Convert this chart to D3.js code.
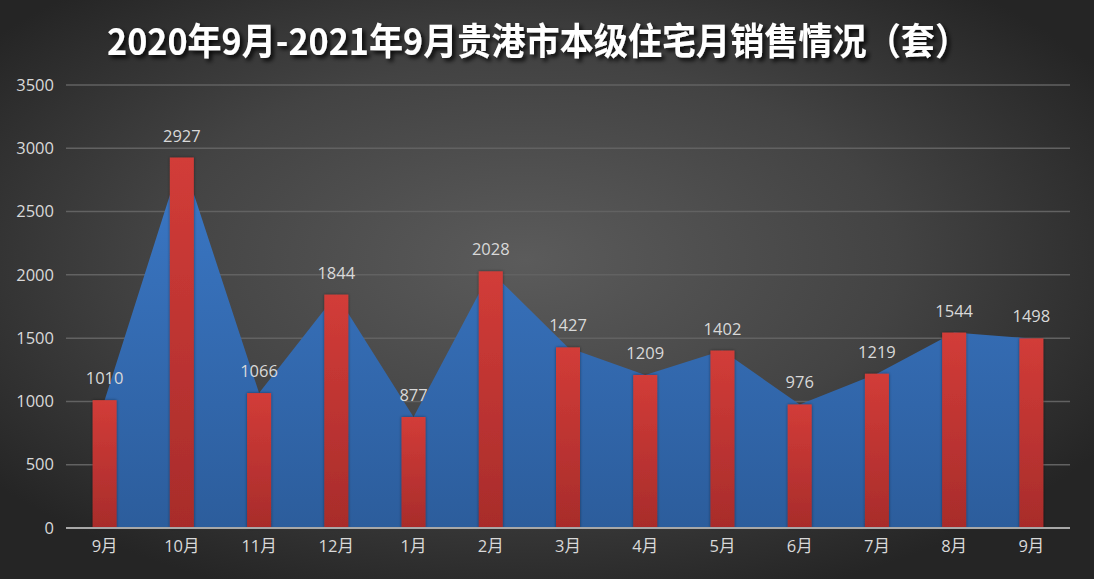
<!DOCTYPE html>
<html><head><meta charset="utf-8">
<script src="https://cdn.jsdelivr.net/npm/d3@7"></script>
<style>html,body{margin:0;padding:0;background:#2a2a2a;overflow:hidden}</style>
</head><body>
<svg id="c" width="1094" height="579"></svg>
<script>
const title = "2020年9月-2021年9月贵港市本级住宅月销售情况（套）";
const categories = ["9月","10月","11月","12月","1月","2月","3月","4月","5月","6月","7月","8月","9月"];
const sales = [1010,2927,1066,1844,877,2028,1427,1209,1402,976,1219,1544,1498];
const yTicks = [0,500,1000,1500,2000,2500,3000,3500];

const W = 1094, H = 579;
const svg = d3.select("#c");
const defs = svg.append("defs");

const bg = defs.append("radialGradient").attr("id","bg").attr("cx","48%").attr("cy","45%").attr("r","62%");
bg.append("stop").attr("offset","0%").attr("stop-color","#5b5b5b");
bg.append("stop").attr("offset","55%").attr("stop-color","#434343");
bg.append("stop").attr("offset","100%").attr("stop-color","#252525");

const ag = defs.append("linearGradient").attr("id","ag").attr("x1",0).attr("y1",0).attr("x2",0).attr("y2",1);
ag.append("stop").attr("offset","0%").attr("stop-color","#3b78c6");
ag.append("stop").attr("offset","100%").attr("stop-color","#2c5d9c");

const bgr = defs.append("linearGradient").attr("id","bgr").attr("x1",0).attr("y1",0).attr("x2",0).attr("y2",1);
bgr.append("stop").attr("offset","0%").attr("stop-color","#d23c38");
bgr.append("stop").attr("offset","100%").attr("stop-color","#a82c2b");

const sh = defs.append("filter").attr("id","sh").attr("x","-10%").attr("y","-30%").attr("width","130%").attr("height","180%");
sh.append("feDropShadow").attr("dx",3).attr("dy",3).attr("stdDeviation",2).attr("flood-color","#000").attr("flood-opacity",0.85);

const bsh = defs.append("filter").attr("id","bsh").attr("x","-30%").attr("y","-5%").attr("width","160%").attr("height","110%");
bsh.append("feDropShadow").attr("dx",0).attr("dy",0).attr("stdDeviation",1.5).attr("flood-color","#000").attr("flood-opacity",0.45);

svg.append("rect").attr("width",W).attr("height",H).attr("fill","url(#bg)");

const x = d3.scaleBand().domain(d3.range(categories.length)).range([66,1070]).padding(0);
const y = d3.scaleLinear().domain([0,3500]).range([528,85]);
const cx = i => x(i) + x.bandwidth()/2;

// gridlines
svg.append("g").selectAll("line").data(yTicks.filter(t=>t>0)).join("line")
  .attr("x1",66).attr("x2",1070).attr("y1",d=>y(d)).attr("y2",d=>y(d))
  .attr("stroke","#626262").attr("stroke-width",1.5);

// area
const area = d3.area().x((d,i)=>cx(i)).y0(y(0)).y1(d=>y(d));
svg.append("path").datum(sales).attr("d",area).attr("fill","url(#ag)");

// bars
const bw = 24;
svg.append("g").selectAll("rect").data(sales).join("rect")
  .attr("x",(d,i)=>cx(i)-bw/2).attr("width",bw)
  .attr("y",d=>y(d)).attr("height",d=>y(0)-y(d))
  .attr("fill","url(#bgr)").attr("filter","url(#bsh)");

// axis line
svg.append("line").attr("x1",66).attr("x2",1070).attr("y1",y(0)).attr("y2",y(0))
  .attr("stroke","#a8a8a8").attr("stroke-width",2);

const numFont = "'Open Sans','Noto Sans',sans-serif";

// y axis
const yAxis = d3.axisLeft(y).tickValues(yTicks).tickFormat(d3.format("d")).tickSize(0).tickPadding(0);
const gy = svg.append("g").attr("transform","translate(54,0)").call(yAxis);
gy.select(".domain").remove();
gy.selectAll("text").attr("fill","#d9d9d9").style("font-family",numFont).style("font-size","16.5px");

// x axis
const xAxis = d3.axisBottom(x).tickFormat(i=>categories[i]).tickSize(0).tickPadding(0);
const gx = svg.append("g").attr("transform","translate(0,540)").call(xAxis);
gx.select(".domain").remove();
gx.selectAll("text").attr("fill","#d9d9d9").style("font-family","'Open Sans','Noto Sans CJK SC',sans-serif").style("font-size","16.5px");

// data labels
svg.append("g").selectAll("text").data(sales).join("text")
  .attr("x",(d,i)=>cx(i)).attr("y",d=>y(d)-16)
  .attr("text-anchor","middle").attr("fill","#d9d9d9")
  .style("font-family",numFont).style("font-size","16.5px")
  .text(d=>d);

// title
svg.append("text").attr("x",538).attr("y",55).attr("text-anchor","middle")
  .attr("fill","#ffffff").attr("filter","url(#sh)")
  .attr("textLength",862).attr("lengthAdjust","spacingAndGlyphs")
  .style("font-family","'Noto Sans CJK SC',sans-serif").style("font-weight","bold").style("font-size","37px")
  .text(title);
</script>
</body></html>
